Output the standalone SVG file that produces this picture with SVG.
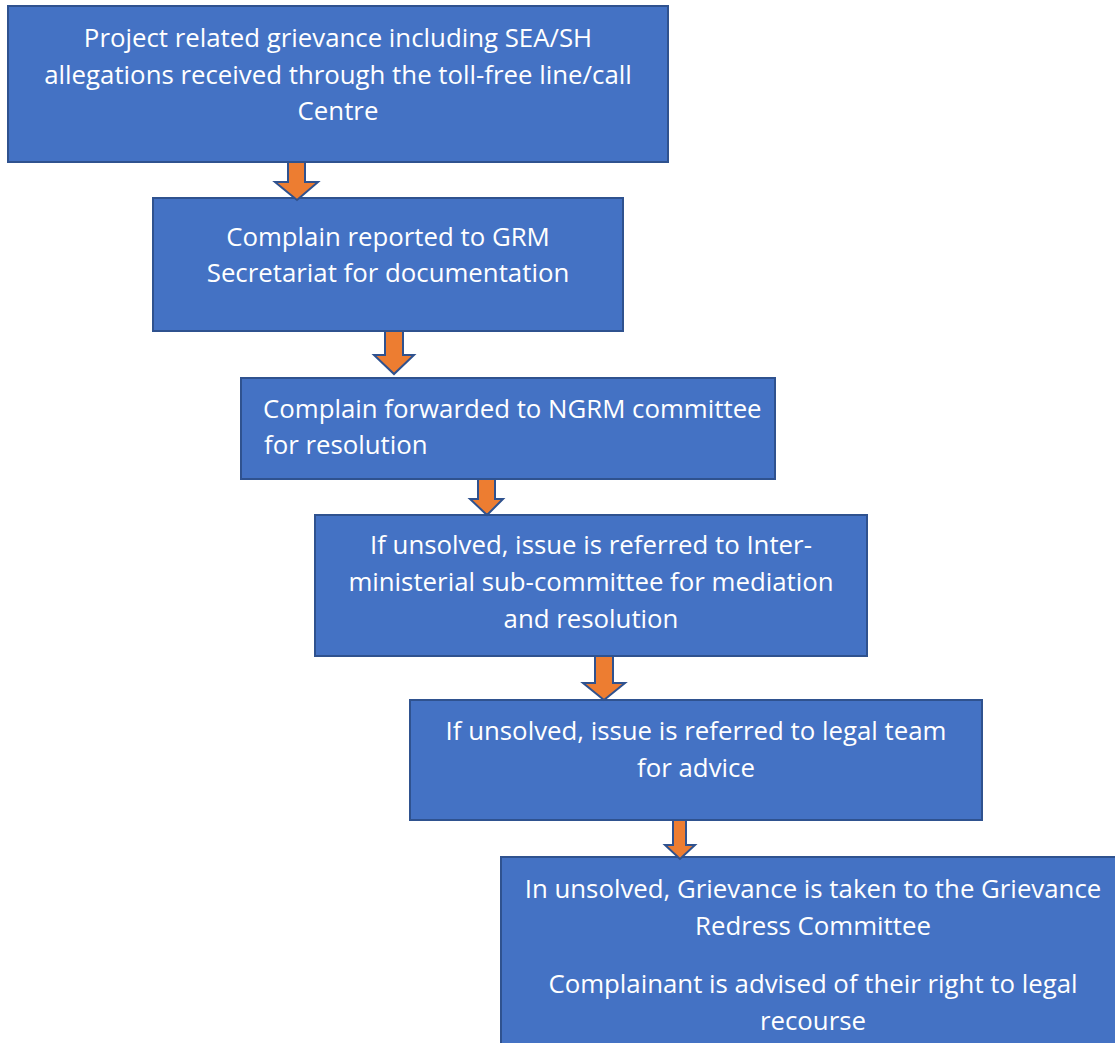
<svg xmlns="http://www.w3.org/2000/svg" width="1115" height="1043" viewBox="0 0 1115 1043">
<style>
.box{fill:#4472C4;stroke:#2F528F;stroke-width:2}
.t{font-family:"Open Sans","Liberation Sans",sans-serif;font-size:25.8px;fill:#FFFFFF}
.c{text-anchor:middle}
.arr{fill:#ED7D31;stroke:#2F528F;stroke-width:2;stroke-linejoin:miter}
</style>
<rect width="1115" height="1043" fill="#FFFFFF"/>
<g id="node1">
<rect class="box" x="8" y="6" width="660" height="156"/>
<text class="t c" x="338" y="47">Project related grievance including SEA/SH</text>
<text class="t c" x="338" y="84">allegations received through the toll-free line/call</text>
<text class="t c" x="338" y="120">Centre</text>
</g>
<g id="node2">
<rect class="box" x="153" y="198" width="470" height="133"/>
<text class="t c" x="388" y="246">Complain reported to GRM</text>
<text class="t c" x="388" y="282">Secretariat for documentation</text>
</g>
<g id="node3">
<rect class="box" x="241" y="378" width="534" height="101"/>
<text class="t" x="263" y="418">Complain forwarded to NGRM committee</text>
<text class="t" x="264" y="454">for resolution</text>
</g>
<g id="node4">
<rect class="box" x="315" y="515" width="552" height="141"/>
<text class="t c" x="591" y="554">If unsolved, issue is referred to Inter-</text>
<text class="t c" x="591" y="591">ministerial sub-committee for mediation</text>
<text class="t c" x="591" y="628">and resolution</text>
</g>
<g id="node5">
<rect class="box" x="410" y="700" width="572" height="120"/>
<text class="t c" x="696" y="740">If unsolved, issue is referred to legal team</text>
<text class="t c" x="696" y="777">for advice</text>
</g>
<g id="node6">
<rect class="box" x="501" y="857" width="630" height="200"/>
<text class="t c" x="813" y="898">In unsolved, Grievance is taken to the Grievance</text>
<text class="t c" x="813" y="935">Redress Committee</text>
<text class="t c" x="813" y="993">Complainant is advised of their right to legal</text>
<text class="t c" x="813" y="1030">recourse</text>
</g>
<g id="connectors">
<path class="arr" d="M288,162 H305 V182 H318 L297,200 L275,182 H288 Z"/>
<path class="arr" d="M385,331 H403 V355 H414 L394,374 L374,355 H385 Z"/>
<path class="arr" d="M478,479 H495 V499 H503 L487,515 L470,499 H478 Z"/>
<path class="arr" d="M595,656 H613 V683 H625 L604,700 L583,683 H595 Z"/>
<path class="arr" d="M673,820 H686 V845 H695 L680,859 L665,845 H673 Z"/>
</g>
</svg>
